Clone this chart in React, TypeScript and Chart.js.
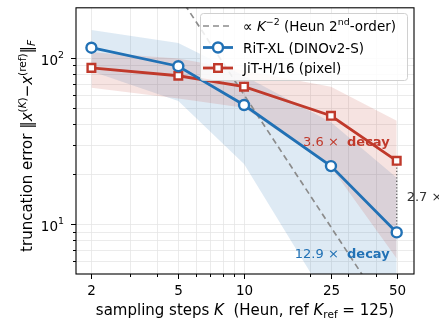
import React, { useEffect, useRef } from 'react';
import { Chart, registerables } from 'chart.js';

Chart.register(...registerables);

// ---- data ----
const STEPS = [2, 5, 10, 25, 50];
const RIT_MEAN = [115, 89, 52, 22.3, 8.9];
const RIT_LOW = [83, 55, 23, 3.2, 0.5];
const RIT_HIGH = [147, 123, 78, 41, 19];
const JIT_MEAN = [87, 78, 67, 44.8, 24];
const JIT_LOW = [66, 57, 50, 22, 6.2];
const JIT_HIGH = [108, 99, 84, 67, 41.8];
const REF_K = [1.5, 70];
const REF_VALS = [2667, 1.22];
const X_MAJOR = [2, 5, 10, 25, 50];
const X_LABELS = ['2', '5', '10', '25', '50'];
const X_MINOR = [3, 4, 6, 7, 8, 9, 20, 30, 40];
const Y_MAJOR = [10, 100];
const Y_EXP = ['1', '2'];
const Y_MINOR = [6, 7, 8, 9, 20, 30, 40, 50, 60, 70, 80, 90];
const RIT_RATIO = '12.9';
const JIT_RATIO = '3.6';
const GAP_RATIO = '2.7';

const BLUE = '#2171b5';
const RED = '#c0392b';
const FONT = '"DejaVu Sans"';

type Seg = [string, { it?: boolean; b?: boolean; s?: number; dy?: number }?];

function rich(ctx: CanvasRenderingContext2D, segs: Seg[], x: number, y: number, size: number, align: 'left' | 'center' | 'right', color: string) {
  const font = (o: any) => `${o.it ? 'italic ' : ''}${o.b ? 'bold ' : ''}${size * (o.s || 1)}px ${FONT}`;
  let total = 0;
  const widths: number[] = [];
  for (const [t, o = {}] of segs) {
    ctx.font = font(o);
    const w = ctx.measureText(t).width;
    widths.push(w);
    total += w;
  }
  let cx = align === 'left' ? x : align === 'center' ? x - total / 2 : x - total;
  ctx.fillStyle = color;
  ctx.textAlign = 'left';
  ctx.textBaseline = 'alphabetic';
  segs.forEach(([t, o = {}], i) => {
    ctx.font = font(o);
    ctx.fillText(t, cx, y + (o.dy || 0) * size);
    cx += widths[i];
  });
}

const overlay = {
  id: 'overlay',
  beforeDatasetsDraw(chart: any) {
    const { ctx, chartArea: a, scales } = chart;
    const xs = scales.x, ys = scales.y;
    ctx.save();
    ctx.strokeStyle = '#e6e6e6';
    ctx.lineWidth = 0.8;
    for (const v of [...X_MAJOR, ...X_MINOR]) {
      const px = Math.round(xs.getPixelForValue(v)) + 0.5;
      ctx.beginPath(); ctx.moveTo(px, a.top); ctx.lineTo(px, a.bottom); ctx.stroke();
    }
    for (const v of [...Y_MAJOR, ...Y_MINOR]) {
      const py = Math.round(ys.getPixelForValue(v)) + 0.5;
      ctx.beginPath(); ctx.moveTo(a.left, py); ctx.lineTo(a.right, py); ctx.stroke();
    }
    // dotted gap line at last step
    const last = STEPS.length - 1;
    const gx = xs.getPixelForValue(STEPS[last]);
    ctx.strokeStyle = '#666';
    ctx.lineWidth = 1.3;
    ctx.setLineDash([1.3, 2]);
    ctx.beginPath();
    ctx.moveTo(gx, ys.getPixelForValue(JIT_MEAN[last]));
    ctx.lineTo(gx, ys.getPixelForValue(RIT_MEAN[last]));
    ctx.stroke();
    ctx.restore();
  },
  afterDatasetsDraw(chart: any) {
    const { ctx, chartArea: a, scales } = chart;
    const xs = scales.x, ys = scales.y;
    const last = STEPS.length - 1;
    ctx.save();
    // annotations
    const lx = xs.getPixelForValue(STEPS[last]);
    const ry = ys.getPixelForValue(JIT_MEAN[last]);
    const by = ys.getPixelForValue(RIT_MEAN[last]);
    rich(ctx, [[JIT_RATIO + ' ×  '], ['decay', { b: true }]], lx - 7, ry - 14.5, 13, 'right', RED);
    rich(ctx, [[RIT_RATIO + ' ×  '], ['decay', { b: true }]], lx - 7, by + 25.5, 13, 'right', BLUE);
    rich(ctx, [[GAP_RATIO + ' ×']], lx + 10, (ry + by) / 2 + 4.5, 13, 'left', '#333');

    // frame
    ctx.strokeStyle = '#000';
    ctx.lineWidth = 1.1;
    ctx.strokeRect(a.left, a.top, a.right - a.left, a.bottom - a.top);
    // ticks
    ctx.lineWidth = 1;
    const tick = (x1: number, y1: number, x2: number, y2: number) => { ctx.beginPath(); ctx.moveTo(x1, y1); ctx.lineTo(x2, y2); ctx.stroke(); };
    X_MAJOR.forEach((v, i) => {
      const px = Math.round(xs.getPixelForValue(v)) + 0.5;
      tick(px, a.bottom, px, a.bottom + 5);
      rich(ctx, [[X_LABELS[i]]], px, a.bottom + 20.5, 13.5, 'center', '#000');
    });
    X_MINOR.forEach((v) => { const px = Math.round(xs.getPixelForValue(v)) + 0.5; tick(px, a.bottom, px, a.bottom + 3); });
    Y_MAJOR.forEach((v, i) => {
      const py = Math.round(ys.getPixelForValue(v)) + 0.5;
      tick(a.left, py, a.left - 5, py);
      rich(ctx, [['10'], [Y_EXP[i], { s: 0.7, dy: -0.45 }]], a.left - 12, py + 6, 13.5, 'right', '#000');
    });
    Y_MINOR.forEach((v) => { const py = Math.round(ys.getPixelForValue(v)) + 0.5; tick(a.left, py, a.left - 3, py); });

    // x title
    rich(ctx, [
      ['sampling steps '], ['K', { it: true }], ['  (Heun, ref '], ['K', { it: true }], ['ref', { s: 0.7, dy: 0.22 }], [' = 125)'],
    ], (a.left + a.right) / 2, 315, 15, 'center', '#000');
    // y title
    ctx.save();
    ctx.translate(32, (a.top + a.bottom) / 2 + 5);
    ctx.rotate(-Math.PI / 2);
    rich(ctx, [
      ['truncation error '], ['‖'], ['x', { it: true }], ['(', { s: 0.7, dy: -0.42 }], ['K', { s: 0.7, dy: -0.42, it: true }], [')', { s: 0.7, dy: -0.42 }],
      ['−'], ['x', { it: true }], ['(ref)', { s: 0.7, dy: -0.42 }], ['‖'], ['F', { s: 0.7, dy: 0.22, it: true }],
    ], 0, 0, 15, 'center', '#000');
    ctx.restore();

    // legend
    const L = 200, T = 13, R = 407, B = 80;
    ctx.beginPath();
    (ctx as any).roundRect(L + 0.5, T + 0.5, R - L, B - T, 3);
    ctx.fillStyle = 'rgba(255,255,255,0.85)';
    ctx.fill();
    ctx.strokeStyle = '#d0d0d0';
    ctx.lineWidth = 1;
    ctx.stroke();
    const rows = [26, 47.5, 68];
    const hx1 = 203, hx2 = 233, hm = 218, tx = 243;
    // row 1 dashed
    ctx.strokeStyle = '#8c8c8c';
    ctx.lineWidth = 1.7;
    ctx.setLineDash([6, 4]);
    ctx.beginPath(); ctx.moveTo(hx1, rows[0]); ctx.lineTo(hx2, rows[0]); ctx.stroke();
    ctx.setLineDash([]);
    rich(ctx, [['∝ '], ['K', { it: true }], ['−2', { s: 0.7, dy: -0.42 }], [' (Heun 2'], ['nd', { s: 0.7, dy: -0.42 }], ['-order)']], tx, rows[0] + 5, 13.5, 'left', '#000');
    // row 2 blue circle
    ctx.strokeStyle = BLUE; ctx.lineWidth = 2.8;
    ctx.beginPath(); ctx.moveTo(hx1, rows[1]); ctx.lineTo(hx2, rows[1]); ctx.stroke();
    ctx.beginPath(); ctx.arc(hm, rows[1], 5, 0, Math.PI * 2); ctx.fillStyle = '#fff'; ctx.fill(); ctx.lineWidth = 2.4; ctx.stroke();
    rich(ctx, [['RiT-XL (DINOv2-S)']], tx, rows[1] + 5, 13.5, 'left', '#000');
    // row 3 red square
    ctx.strokeStyle = RED; ctx.lineWidth = 2.8;
    ctx.beginPath(); ctx.moveTo(hx1, rows[2]); ctx.lineTo(hx2, rows[2]); ctx.stroke();
    ctx.fillStyle = '#fff'; ctx.lineWidth = 2.4;
    ctx.fillRect(hm - 3.8, rows[2] - 3.8, 7.6, 7.6); ctx.strokeRect(hm - 3.8, rows[2] - 3.8, 7.6, 7.6);
    rich(ctx, [['JiT-H/16 (pixel)']], tx, rows[2] + 5, 13.5, 'left', '#000');
    ctx.restore();
  },
};

export default function App() {
  const ref = useRef<HTMLCanvasElement>(null);
  useEffect(() => {
    const canvas = ref.current!;
    const pts = (v: number[]) => STEPS.map((k, i) => ({ x: k, y: v[i] }));
    const chart = new Chart(canvas, {
      type: 'line',
      data: {
        datasets: [
          { label: 'ritHigh', data: pts(RIT_HIGH), borderColor: 'transparent', borderWidth: 0, pointRadius: 0, fill: '+1', backgroundColor: 'rgba(33,113,181,0.15)', order: 5 },
          { label: 'ritLow', data: pts(RIT_LOW), borderColor: 'transparent', borderWidth: 0, pointRadius: 0, fill: false, order: 6 },
          { label: 'jitHigh', data: pts(JIT_HIGH), borderColor: 'transparent', borderWidth: 0, pointRadius: 0, fill: '+1', backgroundColor: 'rgba(192,57,43,0.14)', order: 3 },
          { label: 'jitLow', data: pts(JIT_LOW), borderColor: 'transparent', borderWidth: 0, pointRadius: 0, fill: false, order: 4 },
          { label: 'ref', data: REF_K.map((k, i) => ({ x: k, y: REF_VALS[i] })), borderColor: '#8c8c8c', borderWidth: 1.7, borderDash: [6, 4], pointRadius: 0, fill: false, order: 2 },
          { label: 'JiT', data: pts(JIT_MEAN), borderColor: RED, borderWidth: 2.8, pointStyle: 'rect', pointRadius: 5.4, pointBackgroundColor: '#fff', pointBorderColor: RED, pointBorderWidth: 2.4, fill: false, order: 1 },
          { label: 'RiT', data: pts(RIT_MEAN), borderColor: BLUE, borderWidth: 2.8, pointStyle: 'circle', pointRadius: 5, pointBackgroundColor: '#fff', pointBorderColor: BLUE, pointBorderWidth: 2.4, fill: false, order: 0 },
        ],
      },
      options: {
        responsive: false,
        animation: false,
        layout: { padding: { left: 0, right: 25, top: 6, bottom: 0 } },
        plugins: { legend: { display: false }, tooltip: { enabled: false } },
        scales: {
          x: {
            type: 'logarithmic', min: 1.7, max: 60,
            ticks: { display: false }, grid: { display: false }, border: { display: false },
            afterFit: (s: any) => { s.height = 48; },
          },
          y: {
            type: 'logarithmic', min: 5, max: 200,
            ticks: { display: false }, grid: { display: false }, border: { display: false },
            afterFit: (s: any) => { s.width = 76; },
          },
        },
      } as any,
      plugins: [overlay],
    });
    return () => chart.destroy();
  }, []);
  return (
    <div style={{ position: 'fixed', left: 0, top: 0, width: 439, height: 322, background: '#fff' }}>
      <canvas ref={ref} width={439} height={322} style={{ display: 'block' }} />
    </div>
  );
}
